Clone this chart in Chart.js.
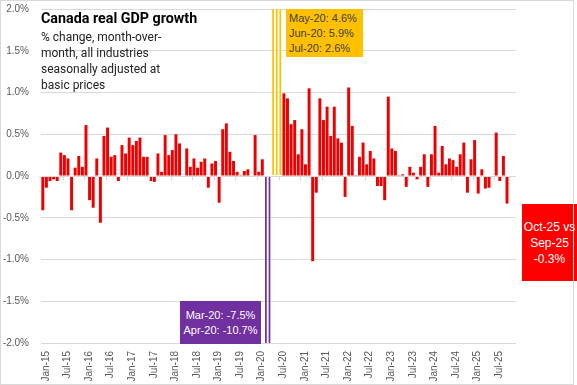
<!DOCTYPE html>
<html>
<head>
<meta charset="utf-8">
<script src="https://cdn.jsdelivr.net/npm/chart.js@4.4.1/dist/chart.umd.min.js"></script>
<style>
  body { margin: 0; background: #fff; }
  #wrap { position: relative; width: 577px; height: 385px; overflow: hidden; background: #fff; }
  #frame { position: absolute; left: 0; top: 0; width: 574px; height: 385px; border: 1px solid #d9d9d9; box-sizing: border-box; pointer-events: none; }
  .txt { position: absolute; white-space: nowrap; }
  #title { left: 41px; top: 10px; font: bold 14.3px Roboto, sans-serif; color: #000; }
  #sub { left: 41px; top: 29px; font: 12px Roboto, sans-serif; line-height: 16px; color: #222; }
  .box { position: absolute; box-sizing: border-box; font-family: "Liberation Sans", Arial, sans-serif; }
  #may { left: 286px; top: 9px; width: 77px; height: 48px; background: #ffc000; color: #404040; font-size: 11px; line-height: 15px; padding: 2px 0 0 3px; }
  #mar { left: 180px; top: 301px; width: 81px; height: 43px; background: #7030a0; color: #fff; font-size: 11px; line-height: 14.6px; padding-top: 7px; text-align: center; }
  #oct { left: 522px; top: 204px; width: 55px; height: 77px; background: #ff0000; color: #fff; font-size: 12px; line-height: 16px; padding-top: 15px; text-align: center; }
</style>
</head>
<body>
<div id="wrap">
  <canvas id="gdpChart" width="577" height="385"></canvas>
  <div id="title" class="txt">Canada real GDP growth</div>
  <div id="sub" class="txt">% change, month-over-<br>month, all industries<br>seasonally adjusted at<br>basic prices</div>
  <div id="may" class="box">May-20: 4.6%<br>Jun-20: 5.9%<br>Jul-20: 2.6%</div>
  <div id="mar" class="box">Mar-20: -7.5%<br>Apr-20: -10.7%</div>
  <div id="oct" class="box">Oct-25 vs<br>Sep-25<br>-0.3%</div>
  <div id="frame"></div>
</div>
<script>
// months Jan-15 .. Dec-25, values to Oct-25
const monthNames = ['Jan', 'Feb', 'Mar', 'Apr', 'May', 'Jun', 'Jul', 'Aug', 'Sep', 'Oct', 'Nov', 'Dec'];
const years = ['15', '16', '17', '18', '19', '20', '21', '22', '23', '24', '25'];

const gdpGrowth = [
    -0.41, -0.14, -0.06, -0.04, -0.06, 0.28, 0.25, 0.21, -0.41, 0.10, 0.24, 0.11,   // 2015
    0.61, -0.29, -0.38, 0.21, -0.56, 0.48, 0.58, 0.23, 0.25, -0.06, 0.37, 0.27,      // 2016
    0.46, 0.37, 0.42, 0.46, 0.23, 0.23, -0.06, -0.07, 0.27, 0.05, 0.49, 0.25,        // 2017
    0.31, 0.50, 0.39, 0.00, 0.33, 0.11, 0.21, 0.10, 0.17, 0.21, -0.14, 0.15,         // 2018
    0.18, -0.32, 0.56, 0.63, 0.29, 0.18, 0.05, 0.01, 0.06, 0.08, 0.00, 0.49,         // 2019
    0.05, 0.20, -7.5, -10.7, 4.6, 5.9, 2.6, 0.99, 0.93, 0.62, 0.67, 0.26,            // 2020
    0.56, 0.14, 1.05, -1.02, -0.20, 0.93, 0.67, 0.83, 0.48, 0.83, 0.45, 0.40,        // 2021
    -0.25, 1.06, 0.60, 0.01, 0.23, 0.40, 0.14, 0.30, 0.21, -0.12, -0.12, -0.29,      // 2022
    0.95, 0.33, 0.30, 0.01, 0.02, -0.13, 0.11, 0.04, -0.04, 0.11, 0.26, -0.13,       // 2023
    0.26, 0.60, 0.04, 0.36, 0.14, 0.21, 0.19, 0.11, 0.26, 0.40, -0.20, 0.20,         // 2024
    0.43, -0.21, 0.08, -0.15, -0.14, -0.01, 0.52, -0.06, 0.24, -0.33                 // 2025
];

const covidDrop = ['Mar-20', 'Apr-20'];
const covidRebound = ['May-20', 'Jun-20', 'Jul-20'];

const yTicks = [-2.0, -1.5, -1.0, -0.5, 0.0, 0.5, 1.0, 1.5, 2.0];

const labels = [];
years.forEach(y => monthNames.forEach(m => labels.push(m + '-' + y)));

const barColors = labels.map(l => {
    if (covidDrop.includes(l)) return '#7030a0';
    if (covidRebound.includes(l)) return '#ffc000';
    return '#ee0000';
});
const barBorders = labels.map(l => (covidDrop.includes(l) || covidRebound.includes(l)) ? 0.6 : 0);

// axis line at zero with small ticks every 6 months, like excel
const zeroAxis = {
    id: 'zeroAxis',
    afterDatasetsDraw(chart) {
        const x = chart.scales.x;
        const y = chart.scales.y;
        const ctx = chart.ctx;
        const y0 = Math.round(y.getPixelForValue(0)) + 0.5;
        const step = x.getPixelForValue(1) - x.getPixelForValue(0);
        ctx.save();
        ctx.strokeStyle = '#d9d9d9';
        ctx.lineWidth = 1;
        ctx.beginPath();
        ctx.moveTo(chart.chartArea.left, y0);
        ctx.lineTo(chart.chartArea.right, y0);
        for (let i = 6; i < labels.length; i += 6) {
            const px = Math.round(x.getPixelForValue(i) - step / 2) + 0.5;
            ctx.moveTo(px, y0);
            ctx.lineTo(px, y0 + 4);
        }
        ctx.stroke();
        ctx.restore();
    }
};

const gdpChart = new Chart(document.getElementById('gdpChart'), {
    type: 'bar',
    data: {
        labels: labels,
        datasets: [{
            data: gdpGrowth,
            backgroundColor: barColors,
            borderColor: '#ffffff',
            borderWidth: barBorders,
            borderSkipped: false,
            categoryPercentage: 1.0,
            barPercentage: 0.82
        }]
    },
    options: {
        responsive: false,
        animation: false,
        devicePixelRatio: 1,
        layout: { padding: { left: 0, right: 61, top: 9, bottom: 0 } },
        plugins: { legend: { display: false }, tooltip: { enabled: false } },
        scales: {
            x: {
                grid: { display: false, drawTicks: false },
                border: { display: false },
                ticks: {
                    autoSkip: false,
                    minRotation: 90,
                    maxRotation: 90,
                    padding: 8,
                    labelOffset: 3,
                    color: '#595959',
                    font: { family: "'Liberation Sans Narrow', 'Liberation Sans', sans-serif", size: 10 },
                    callback: (v, i) => (i % 6 === 0 ? labels[i] : '')
                },
                afterFit: s => { s.height = 42; }
            },
            y: {
                min: -2,
                max: 2,
                afterBuildTicks: s => { s.ticks = yTicks.map(v => ({ value: v })); },
                grid: { color: '#d9d9d9', drawTicks: false },
                border: { display: false },
                ticks: {
                    padding: 12,
                    color: '#595959',
                    font: { family: "'Liberation Sans', sans-serif", size: 10 },
                    callback: v => v.toFixed(1) + '%'
                },
                afterFit: s => {
                    s.width = 41;
                    // tick padding should not push the plot down
                    s.paddingTop = 0;
                    s.paddingBottom = 0;
                }
            }
        }
    },
    plugins: [zeroAxis]
});
</script>
</body>
</html>
